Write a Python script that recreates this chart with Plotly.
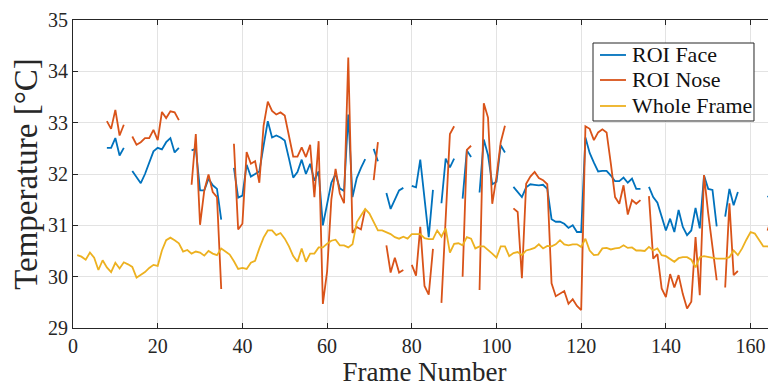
import plotly.graph_objects as go

frames = list(range(1, 167))

N = None
roi_face = [
    N, N, N, N, N, N, N, 32.51, 32.51, 32.70,            # 1-10
    32.36, 32.51, N, 32.06, 31.94, 31.82, 32.00, 32.21, 32.44, 32.51,  # 11-20
    32.48, 32.62, 32.70, 32.42, 32.51, N, N, 32.46, 32.49, 31.68,      # 21-30
    31.68, 31.91, 31.78, 31.71, 31.11, N, N, 32.12, 31.54, 31.58,      # 31-40
    32.18, 31.95, 32.00, 32.05, 32.55, 33.03, 32.71, 32.75, 32.71, 32.65,  # 41-50
    32.30, 31.93, 32.04, 32.28, 32.00, 32.20, 31.87, 32.05, 31.00, 31.42,  # 51-60
    31.83, 32.00, 31.72, 31.67, 33.16, 31.55, 31.92, 32.12, 32.29, N,      # 61-70
    32.49, 32.25, N, 31.63, 31.32, 31.50, 31.68, 31.73, N, 31.77,          # 71-80
    31.74, 32.28, 31.52, 30.77, 31.69, N, 31.43, 32.30, 32.13, 32.30,      # 81-90
    N, 31.52, 32.46, 32.33, N, 31.64, 32.67, 32.37, 31.80, 31.85,          # 91-100
    32.56, 32.42, N, 31.75, 31.65, 31.55, 31.74, 31.80, 31.79, 31.78,      # 101-110
    31.79, 31.71, 31.12, 31.07, 31.07, 31.03, 30.95, 31.00, 30.87, 30.87,  # 111-120
    32.71, 32.41, 32.22, 32.05, 32.06, 32.06, 31.97, 31.86, 31.86, 31.93,  # 121-130
    31.83, 31.91, 31.71, 31.71, N, 31.75, 31.55, 31.44, 31.18, 30.90,      # 131-140
    31.13, 30.87, 31.30, 30.97, 30.81, 30.90, 31.34, 30.94, 31.97, 31.71,  # 141-150
    31.69, 30.98, N, 31.17, 31.71, 31.39, 31.65, N, N, N,                  # 151-160
    N, N, N, 31.55, 31.62, 31.90,                                          # 161-166
]

roi_nose = [
    N, N, N, N, N, N, N, 33.03, 32.88, 33.25,            # 1-10
    32.75, 32.96, N, 32.73, 32.57, 32.62, 32.70, 32.70, 32.86, 32.66,  # 11-20
    33.21, 33.09, 33.22, 33.20, 33.05, N, N, 31.79, 32.78, 31.01,      # 21-30
    31.68, 31.99, 31.65, 31.55, 29.76, N, N, 32.59, 30.92, 31.03,      # 31-40
    32.43, 32.20, 32.25, 31.83, 32.94, 33.41, 33.23, 33.16, 33.20, 33.14,  # 41-50
    32.71, 32.34, 32.34, 32.52, 32.33, 32.57, 31.55, 32.64, 29.47, 30.10,  # 51-60
    31.50, 32.10, 31.62, 31.43, 34.27, 30.85, 30.97, 30.92, 31.32, N,      # 61-70
    31.88, 32.62, N, 30.61, 30.08, 30.37, 30.08, 30.13, N, 30.23,          # 71-80
    30.02, 30.97, 29.82, 29.65, 30.54, N, 29.49, 31.15, 32.78, 32.93,      # 81-90
    N, 30.00, 32.47, 32.55, N, 29.74, 33.38, 33.10, 31.42, 31.95,          # 91-100
    32.62, 32.94, N, 31.33, 31.26, 29.97, 31.81, 31.95, 32.04, 31.92,      # 101-110
    31.88, 31.80, 29.87, 29.62, 29.67, 29.72, 29.47, 29.56, 29.43, 29.35,  # 111-120
    32.93, 32.88, 32.66, 32.81, 32.87, 32.81, 32.20, 31.55, 31.42, 31.78,  # 121-130
    31.21, 31.49, 31.42, 31.49, N, 31.57, 30.35, 30.44, 29.77, 29.60,      # 131-140
    30.05, 29.79, 30.03, 29.66, 29.38, 29.51, 30.77, 29.64, 31.98, 31.23,  # 141-150
    30.58, 29.93, N, 29.79, 31.43, 30.03, 30.11, N, N, N,                  # 151-160
    N, N, N, 30.90, 31.15, 31.60,                                          # 161-166
]

whole_frame = [
    30.42, 30.39, 30.33, 30.47, 30.37, 30.13, 30.32, 30.18, 30.09, 30.27,  # 1-10
    30.16, 30.28, 30.24, 30.19, 29.98, 30.03, 30.09, 30.17, 30.23, 30.21,  # 11-20
    30.51, 30.71, 30.76, 30.71, 30.65, 30.49, 30.52, 30.45, 30.49, 30.47,  # 21-30
    30.41, 30.50, 30.45, 30.42, 30.55, 30.49, 30.43, 30.30, 30.15, 30.17,  # 31-40
    30.15, 30.27, 30.31, 30.55, 30.76, 30.90, 30.90, 30.81, 30.85, 30.74,  # 41-50
    30.59, 30.40, 30.29, 30.55, 30.29, 30.45, 30.45, 30.57, 30.57, 30.64,  # 51-60
    30.70, 30.72, 30.61, 30.61, 30.57, 30.63, 31.06, 31.19, 31.32, 31.23,  # 61-70
    31.06, 30.90, 30.90, 30.87, 30.83, 30.77, 30.74, 30.78, 30.74, 30.83,  # 71-80
    30.83, 30.83, 30.75, 30.73, 30.73, 30.90, 30.78, 30.94, 30.47, 30.64,  # 81-90
    30.65, 30.61, 30.77, 30.74, 30.55, 30.59, 30.59, 30.51, 30.45, 30.37,  # 91-100
    30.59, 30.59, 30.40, 30.46, 30.48, 30.42, 30.51, 30.53, 30.56, 30.63,  # 101-110
    30.55, 30.60, 30.59, 30.63, 30.71, 30.63, 30.61, 30.63, 30.63, 30.58,  # 111-120
    30.74, 30.51, 30.42, 30.43, 30.55, 30.56, 30.53, 30.55, 30.56, 30.61,  # 121-130
    30.56, 30.57, 30.51, 30.51, 30.50, 30.58, 30.51, 30.55, 30.42, 30.40,  # 131-140
    30.35, 30.29, 30.36, 30.38, 30.38, 30.33, 30.18, 30.38, 30.40, 30.38,  # 141-150
    30.36, 30.35, 30.35, 30.35, 30.38, 30.51, 30.42, 30.55, 30.72, 30.87,  # 151-160
    30.84, 30.72, 30.59, 30.59, 30.56, 30.50,                              # 161-166
]

series_names = ["ROI Face", "ROI Nose", "Whole Frame"]
x_ticks = [0, 20, 40, 60, 80, 100, 120, 140, 160]
y_ticks = [29, 30, 31, 32, 33, 34, 35]

SERIF = "Liberation Serif"
AX = "#262626"
COLORS = ["#0072BD", "#D95319", "#EDB120"]

fig = go.Figure()
for name, vals, col in zip(series_names, [roi_face, roi_nose, whole_frame], COLORS):
    fig.add_trace(go.Scatter(x=frames, y=vals, mode="lines", name=name,
                             connectgaps=False, showlegend=False,
                             line=dict(color=col, width=1.8)))

# Legend box drawn in paper coordinates (MATLAB-style compact legend)
shapes = [dict(type="rect", xref="paper", yref="paper",
               x0=0.7397, x1=0.9687, y0=0.6721, y1=0.9253,
               line=dict(color=AX, width=1), fillcolor="white", layer="above")]
annotations = []
row_y = [0.8864, 0.8052, 0.7208]
for name, col, ry in zip(series_names, COLORS, row_y):
    shapes.append(dict(type="line", xref="paper", yref="paper",
                       x0=0.7496, x1=0.7866, y0=ry, y1=ry,
                       line=dict(color=col, width=1.8), layer="above"))
    annotations.append(dict(xref="paper", yref="paper", x=0.7923, y=ry,
                            xanchor="left", yanchor="middle", showarrow=False,
                            text=name, font=dict(family=SERIF, size=22, color="#111111")))

fig.update_layout(
    width=768, height=384,
    margin=dict(l=65, r=0, t=12, b=64, autoexpand=False),
    paper_bgcolor="white", plot_bgcolor="white",
    font=dict(family=SERIF, size=19, color=AX),
    showlegend=False,
    shapes=shapes, annotations=annotations,
)
fig.update_xaxes(
    range=[0, 166], tickvals=x_ticks, ticktext=[str(t) for t in x_ticks],
    automargin=False,
    showgrid=True, gridcolor="#e3e3e3", gridwidth=1, zeroline=False,
    showline=True, linecolor=AX, linewidth=1, mirror="ticks",
    ticks="inside", ticklen=5, tickcolor=AX,
    tickfont=dict(family=SERIF, size=20, color=AX),
    title=dict(text="Frame Number", font=dict(family=SERIF, size=27, color=AX), standoff=4),
)
fig.update_yaxes(
    range=[29, 35], tickvals=y_ticks, ticktext=[str(t) for t in y_ticks],
    automargin=False,
    showgrid=True, gridcolor="#e3e3e3", gridwidth=1, zeroline=False,
    showline=True, linecolor=AX, linewidth=1, mirror=False,
    ticks="inside", ticklen=5, tickcolor=AX,
    tickfont=dict(family=SERIF, size=20, color=AX),
    title=dict(text="Temperature [°C]", font=dict(family=SERIF, size=33, color=AX), standoff=2),
)

fig.write_html("out.html")
